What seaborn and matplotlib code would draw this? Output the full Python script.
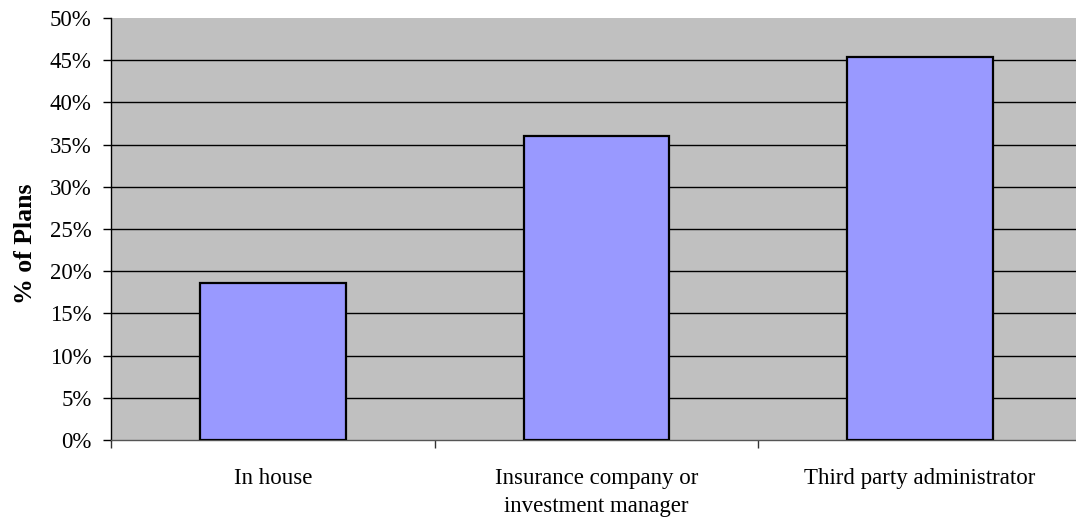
import matplotlib
matplotlib.use("Agg")
import matplotlib.pyplot as plt
import seaborn as sns
import pandas as pd
from matplotlib.ticker import FuncFormatter

# Who administers the plan, share of plans
categories = ["In house", "Insurance company or\ninvestment manager", "Third party administrator"]
share_pct = [18.6, 36.0, 45.4]
y_ticks = [0, 5, 10, 15, 20, 25, 30, 35, 40, 45, 50]

df = pd.DataFrame({"provider": categories, "share": share_pct})

sns.set_theme(style="white")
plt.rcParams["font.family"] = ["Liberation Serif", "DejaVu Serif"]
plt.rcParams["text.color"] = "black"
plt.rcParams["axes.labelcolor"] = "black"
plt.rcParams["xtick.color"] = "black"
plt.rcParams["ytick.color"] = "black"

fig = plt.figure(figsize=(10.76, 5.2), dpi=100)
ax = fig.add_axes([111 / 1076, 1 - 440 / 520, (1082 - 111) / 1076, (440 - 18) / 520])
ax.set_facecolor("#C0C0C0")

sns.barplot(data=df, x="provider", y="share", ax=ax, color="#9999FF",
            saturation=1, width=0.45, edgecolor="black", linewidth=1.6, zorder=3)

ax.set_ylim(y_ticks[0], y_ticks[-1])
ax.set_xlim(-0.5, 2.5)
ax.set_yticks(y_ticks)
ax.yaxis.set_major_formatter(FuncFormatter(lambda v, _: f"{v:.0f}%"))
ax.grid(False)
# interior gridlines only: none on the top edge of the plot area
for v in y_ticks[1:-1]:
    ax.axhline(v, color="black", linewidth=1, zorder=1)

# Category boundaries carry the tick marks, labels sit at the centres
ax.set_xticks([-0.5, 0.5, 1.5, 2.5], minor=True)
ax.tick_params(axis="x", which="major", length=0, pad=20.5, labelsize=16.5, labelcolor="black")
ax.tick_params(axis="x", which="minor", length=5.5, width=1, color="#333333", direction="out", bottom=True)
ax.tick_params(axis="y", length=5.5, width=1, color="black", direction="out", left=True,
               labelsize=16.5, pad=8.5, labelcolor="black")
for lbl in ax.get_xticklabels():
    lbl.set_linespacing(1.4)

for side in ("top", "right"):
    ax.spines[side].set_visible(False)
ax.spines["left"].set_color("black")
ax.spines["left"].set_linewidth(1)
ax.spines["bottom"].set_color("#555555")
ax.spines["bottom"].set_linewidth(1)

ax.set_xlabel("")
ax.set_ylabel("% of Plans", fontsize=18.5, fontweight="bold", color="black")
ax.yaxis.set_label_coords(-0.0762, 0.4645)

fig.savefig("out.png", dpi=100)
